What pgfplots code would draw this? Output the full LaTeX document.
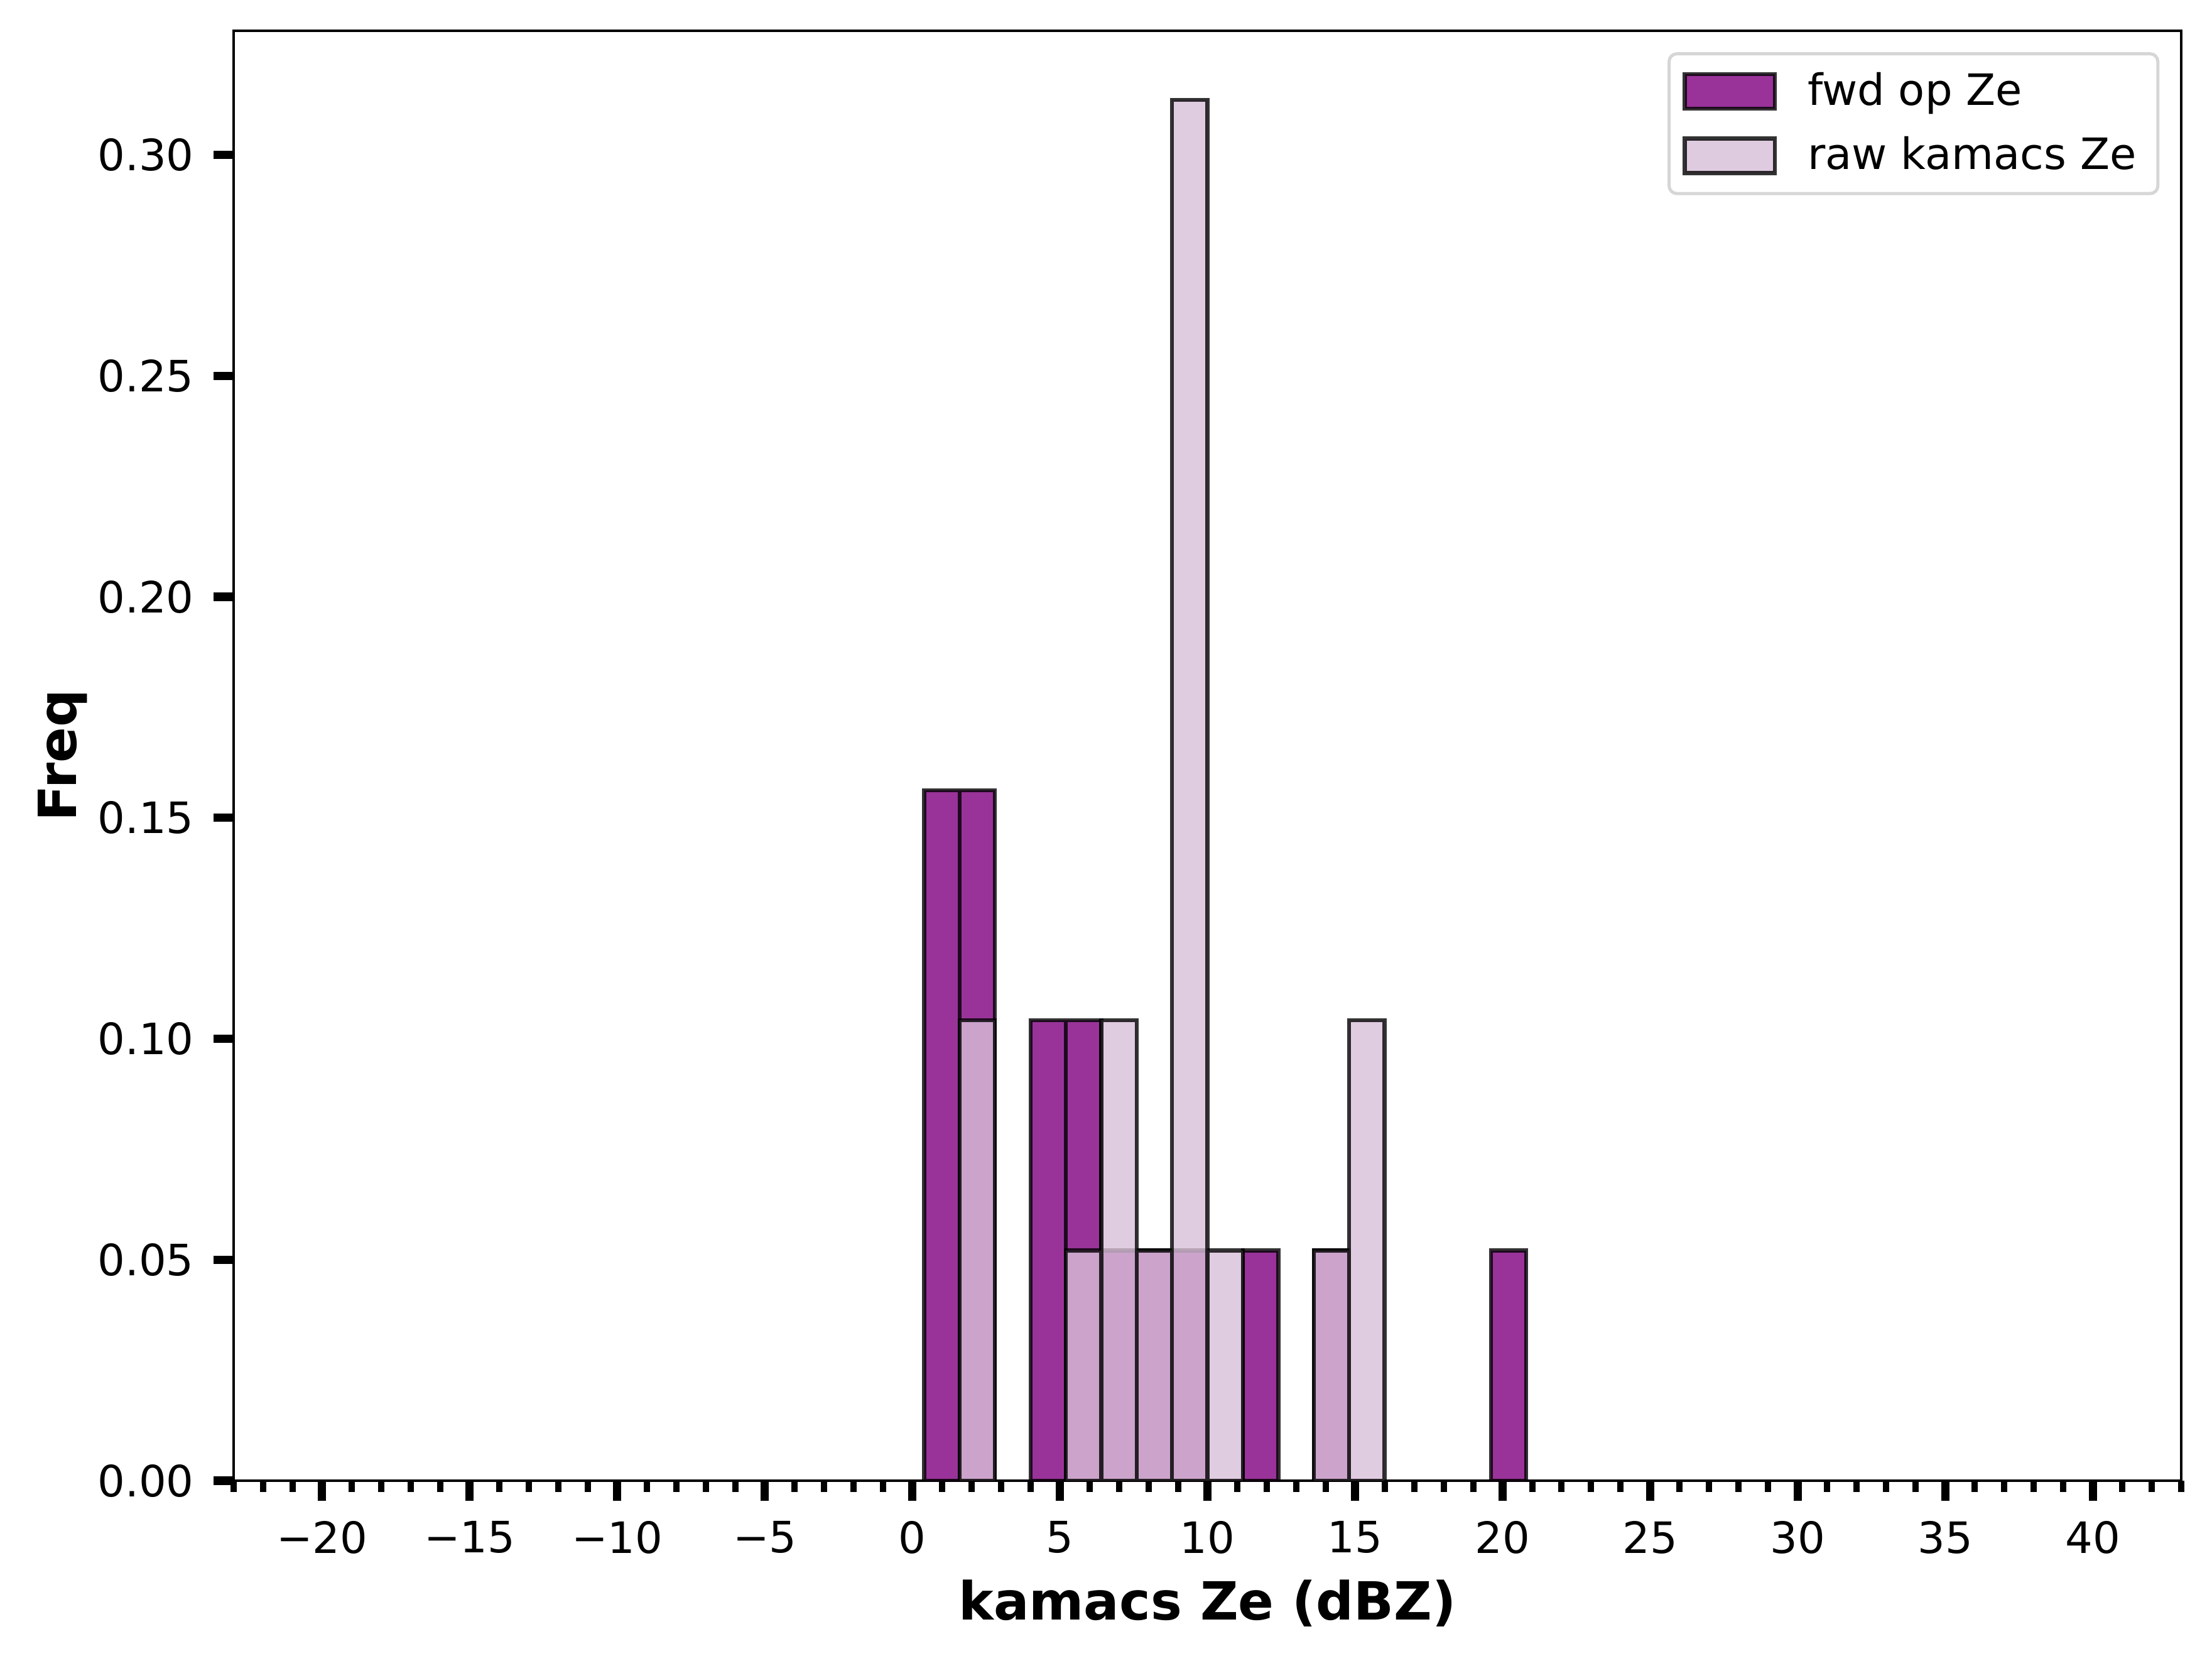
\documentclass[border=0pt]{standalone}
\usepackage{pgfplots}
\pgfplotsset{compat=1.18}
\usepackage{fontspec}
\setmainfont{DejaVu Sans}
\definecolor{fwd}{RGB}{128,0,128}
\definecolor{rawc}{RGB}{216,191,216}
\definecolor{legframe}{RGB}{214,214,214}
\pgfplotsset{boxlegend/.style={legend image code/.code={\draw[##1, sharp corners] (0pt,-4.4pt) rectangle (23pt,4.4pt); \path (28.8pt,0pt);}}}
\begin{document}
\begin{tikzpicture}
\begin{axis}[
  at={(0,0)}, anchor=south west,
  scale only axis, width=496.2pt, height=369.3pt,
  xmin=-23, xmax=43, ymin=0, ymax=0.328125,
  axis line style={line width=0.7pt},
  xtick={-20,-15,-10,-5,0,5,10,15,20,25,30,35,40},
  xticklabels={−20,−15,−10,−5,0,5,10,15,20,25,30,35,40},
  minor xtick={-23,-22,...,43},
  ytick={0,0.05,0.1,0.15,0.2,0.25,0.3},
  yticklabels={0.00,0.05,0.10,0.15,0.20,0.25,0.30},
  tick align=outside, xtick pos=bottom, ytick pos=left,
  major tick length=5.1pt, minor tick length=2.9pt,
  every major tick/.append style={line width=2.1pt, black},
  every minor tick/.append style={line width=1.6pt, black},
  xticklabel style={font=\fontsize{11}{13}\selectfont, anchor=north, inner sep=0pt, yshift=-5.0pt},
  yticklabel style={font=\fontsize{11}{13}\selectfont, anchor=east, inner sep=0pt, xshift=-4.8pt},
  xlabel={kamacs Ze (dBZ)},
  ylabel={Freq},
  xlabel style={font=\fontsize{13.4}{15}\selectfont\bfseries, at={(axis description cs:0.5,-0.0959)}, anchor=base, inner sep=0pt},
  ylabel style={font=\fontsize{13.4}{15}\selectfont\bfseries, at={(axis description cs:-0.0806,0.5)}, anchor=base, inner sep=0pt},
  legend cell align=left,
  legend style={at={(1,1)}, anchor=north east, xshift=-5.6pt, yshift=-5.5pt,
    draw=legframe, line width=0.8pt, rounded corners=2pt,
    font=\fontsize{11}{13}\selectfont, inner xsep=3.5pt, inner ysep=2.7pt, row sep=2.5pt},
]
\addplot[ybar, bar width=1.2, bar shift=0pt, fill=fwd, fill opacity=0.8, draw=black, draw opacity=0.8, line width=1.0pt, boxlegend]
  coordinates {(1.0,0.15625) (2.2,0.15625) (4.6,0.104167) (5.8,0.104167) (7.0,0.052083) (8.2,0.052083) (9.4,0.052083) (11.8,0.052083) (14.2,0.052083) (20.2,0.052083)};
\addplot[ybar, bar width=1.2, bar shift=0pt, fill=rawc, fill opacity=0.8, draw=black, draw opacity=0.8, line width=1.0pt, boxlegend]
  coordinates {(2.2,0.104167) (5.8,0.052083) (7.0,0.104167) (8.2,0.052083) (9.4,0.3125) (10.6,0.052083) (14.2,0.052083) (15.4,0.104167)};
\legend{fwd op Ze, raw kamacs Ze}
\end{axis}
\pgfresetboundingbox
\path[use as bounding box] (-59.5pt,-45.9pt) rectangle (504.0pt,377.1pt);
\end{tikzpicture}
\end{document}
